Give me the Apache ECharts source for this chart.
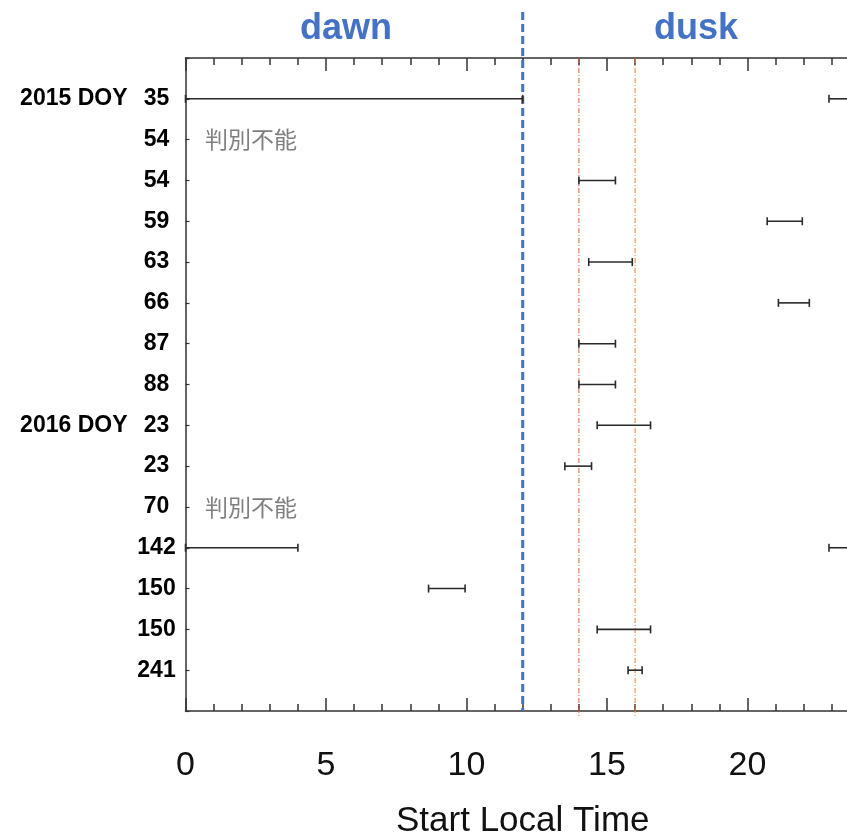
<!DOCTYPE html>
<html>
<head>
<meta charset="utf-8">
<script src="https://cdn.jsdelivr.net/npm/echarts@6/dist/echarts.min.js"></script>
<style>
  html, body { margin: 0; padding: 0; background: #ffffff; }
  #chart { width: 847px; height: 835px; }
</style>
</head>
<body>
<div id="chart"></div>
<script>
// Event rows, top to bottom
const rowLabels = ['35', '54', '54', '59', '63', '66', '87', '88', '23', '23', '70', '142', '150', '150', '241'];
const yearTags  = ['2015 DOY', '', '', '', '', '', '', '', '2016 DOY', '', '', '', '', '', ''];

// Local-time intervals (hours): row number (1 = top row), start, end
const spanRow   = [1,    1,    3,    4,    5,     6,    7,    8,    9,     10,   12,  12,   13,   14,    15];
const spanStart = [0,    22.9, 14.0, 20.7, 14.35, 21.1, 14.0, 14.0, 14.65, 13.5, 0,   22.9, 8.65, 14.65, 15.75];
const spanEnd   = [12.0, 24.0, 15.3, 21.95, 15.9, 22.2, 15.3, 15.3, 16.55, 14.45, 4.0, 24.0, 9.95, 16.55, 16.25];

// Rows whose local time could not be determined
const unknownRows = [2, 11];
const unknownText = '判別不能';

// Reference times: noon (dawn/dusk divider) and the 14h / 16h guides
const refHours = [12, 14, 16];

// Axis ticks
const xMin = 0, xMax = 25, xStep = 5;

const spanData = spanRow.map((r, i) => [r, spanStart[i], spanEnd[i]]);
const unknownData = unknownRows.map(r => [r]);
const refData = refHours.map((h, i) => [h, i]);

const chart = echarts.init(document.getElementById('chart'), null, { renderer: 'canvas' });

const axisColor = '#333333';
const blue = '#4472C4';

const xCommon = {
  type: 'value',
  min: xMin,
  max: xMax,
  interval: xStep,
  axisLine: { show: true, onZero: false, lineStyle: { color: axisColor, width: 1.5 } },
  axisTick: { show: true, inside: true, length: 13, lineStyle: { color: axisColor, width: 1.5 } },
  minorTick: { show: true, splitNumber: 5, length: 7, lineStyle: { color: axisColor, width: 1.5 } },
  splitLine: { show: false },
  minorSplitLine: { show: false }
};

const option = {
  backgroundColor: '#ffffff',
  animation: false,
  grid: { left: 185.5, top: 58, width: 702.5, height: 653, containLabel: false, outerBoundsMode: 'none' },
  graphic: [
    { type: 'text', x: 346, y: 29, style: { text: 'dawn', fill: blue, font: 'bold 36px "Liberation Sans", Arial, sans-serif', align: 'center', verticalAlign: 'middle' } },
    { type: 'text', x: 696, y: 29, style: { text: 'dusk', fill: blue, font: 'bold 36px "Liberation Sans", Arial, sans-serif', align: 'center', verticalAlign: 'middle' } }
  ],
  xAxis: [
    Object.assign({}, xCommon, {
      position: 'bottom',
      name: 'Start Local Time',
      nameLocation: 'middle',
      nameGap: 93,
      nameMoveOverlap: false,
      nameTextStyle: { fontFamily: '"Liberation Sans", Arial, sans-serif', fontSize: 35, color: '#111111', padding: [0, 28, 0, 0] },
      axisLabel: {
        show: true, margin: 38, color: '#111111',
        fontFamily: '"Liberation Sans", Arial, sans-serif', fontSize: 34,
        showMaxLabel: false
      }
    }),
    Object.assign({}, xCommon, {
      position: 'top',
      axisLabel: { show: false }
    })
  ],
  yAxis: {
    type: 'value',
    inverse: true,
    min: 0,
    max: rowLabels.length + 1,
    interval: 1,
    axisLine: { show: true, onZero: false, lineStyle: { color: axisColor, width: 1.5 } },
    axisTick: { show: true, inside: true, length: 4, lineStyle: { color: axisColor, width: 1.2 } },
    splitLine: { show: false },
    axisLabel: {
      show: true,
      margin: 9,
      align: 'right',
      showMinLabel: true,
      showMaxLabel: true,
      formatter: function (v) {
        const i = Math.round(v) - 1;
        if (i < 0 || i >= rowLabels.length) return '';
        const num = '{n|' + rowLabels[i] + '}';
        return yearTags[i] ? '{p|' + yearTags[i] + '}' + num : num;
      },
      rich: {
        p: { fontFamily: '"Liberation Sans", Arial, sans-serif', fontSize: 23, fontWeight: 'bold', color: '#000000', padding: [0, 9, 0, 0] },
        n: { fontFamily: '"Liberation Sans", Arial, sans-serif', fontSize: 23, fontWeight: 'bold', color: '#000000', width: 40, align: 'center' }
      }
    }
  },
  series: [
    {
      // guide lines at fixed local times
      type: 'custom',
      xAxisIndex: 0,
      clip: false,
      silent: true,
      z: 1,
      data: refData,
      renderItem: function (params, api) {
        const x = api.coord([api.value(0), 0])[0];
        const cs = params.coordSys;
        const k = api.value(1);
        if (k === 0) {
          return {
            type: 'line',
            shape: { x1: x, y1: 12, x2: x, y2: cs.y + cs.height },
            style: { stroke: blue, lineWidth: 3, lineDash: [8, 4] }
          };
        }
        return {
          type: 'line',
          shape: { x1: x, y1: cs.y, x2: x, y2: cs.y + cs.height + 6 },
          style: { stroke: k === 1 ? '#D9622B' : '#F07F2E', lineWidth: 1, lineDash: [5, 2, 1, 2] }
        };
      }
    },
    {
      // local-time intervals drawn as capped bars
      type: 'custom',
      xAxisIndex: 0,
      z: 3,
      data: spanData,
      renderItem: function (params, api) {
        const row = api.value(0);
        const a = api.coord([api.value(1), row]);
        const b = api.coord([api.value(2), row]);
        const h = 4;
        const st = { stroke: '#2a2a2a', lineWidth: 1.6 };
        return {
          type: 'group',
          children: [
            { type: 'line', shape: { x1: a[0], y1: a[1], x2: b[0], y2: b[1] }, style: st },
            { type: 'line', shape: { x1: a[0], y1: a[1] - h, x2: a[0], y2: a[1] + h }, style: st },
            { type: 'line', shape: { x1: b[0], y1: b[1] - h, x2: b[0], y2: b[1] + h }, style: st }
          ]
        };
      }
    },
    {
      // rows without a determined time
      type: 'custom',
      xAxisIndex: 0,
      z: 3,
      data: unknownData,
      renderItem: function (params, api) {
        const p = api.coord([0, api.value(0)]);
        return {
          type: 'text',
          x: p[0] + 19.5,
          y: p[1],
          style: {
            text: unknownText,
            fill: '#7f7f7f',
            font: '23px "Noto Sans CJK JP", sans-serif',
            align: 'left',
            verticalAlign: 'middle'
          }
        };
      }
    }
  ]
};

chart.setOption(option);
</script>
</body>
</html>
